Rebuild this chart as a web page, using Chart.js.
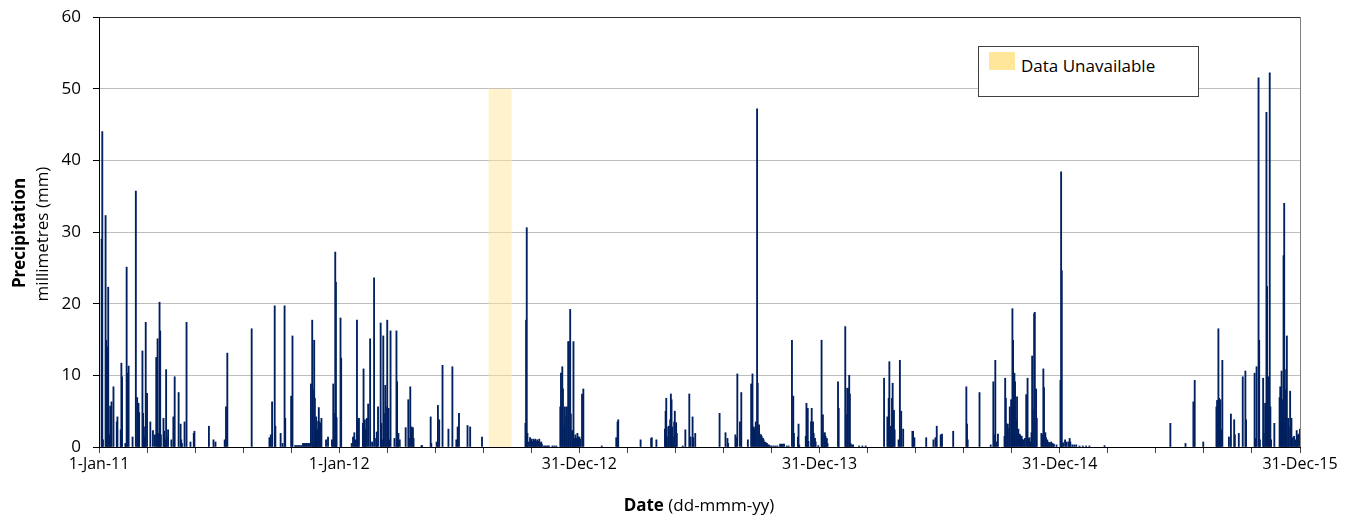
<!DOCTYPE html>
<html>
<head>
<meta charset="utf-8">
<script src="https://cdn.jsdelivr.net/npm/chart.js@4.4.1/dist/chart.umd.min.js"></script>
<style>
  html, body { margin: 0; padding: 0; background: #fff; overflow: hidden; }
  #wrap { position: relative; width: 1356px; height: 516px; }
  canvas { position: absolute; left: 0; top: 0; }
  .t { position: absolute; font-family: "Open Sans", sans-serif; color: #000; white-space: nowrap; }
  #xt { left: 699px; top: 504px; transform: translate(-50%, -50%); font-size: 17px; }
  #yt1 { left: 18px; top: 233px; transform: translate(-50%, -50%) rotate(-90deg); font-size: 17px; font-weight: bold; }
  #yt2 { left: 41px; top: 234px; transform: translate(-50%, -50%) rotate(-90deg); font-size: 17px; }
  #legend { position: absolute; left: 978px; top: 46px; width: 221px; height: 51px; box-sizing: border-box;
            border: 1px solid #404040; background: #fff; }
  #sw { position: absolute; left: 10px; top: 5px; width: 26px; height: 18px; background: #FFE699; }
  #lt { position: absolute; left: 42px; top: 8px; font-family: "Open Sans", sans-serif; font-size: 17px; line-height: 22px; color: #000; white-space: nowrap; }
</style>
</head>
<body>
<div id="wrap">
  <canvas id="c" width="1356" height="516"></canvas>
  <div class="t" id="xt"><b>Date</b> (dd-mmm-yy)</div>
  <div class="t" id="yt1">Precipitation</div>
  <div class="t" id="yt2">millimetres (mm)</div>
  <div id="legend"><div id="sw"></div><div id="lt">Data Unavailable</div></div>
</div>
<script>
// Day index counted from 1-Jan-11 (day 0) to 31-Dec-15 (day 1825); daily precipitation in mm
const days2011 = [
  4,5,6,10,11,13,14,16,17,19,
  22,27,28,33,34,35,40,42,43,45,
  51,56,58,60,61,66,67,69,70,71,
  73,78,82,85,87,89,90,92,93,94,
  98,99,101,102,103,105,110,113,115,121,
  124,125,126,130,133,139,144,145,167,174,
  177,191,193,195,232,259,261,263,267,268,
  276,279,282,283,292,294,298,300,302,304,
  306,308,310,312,314,316,318,320,322,324,
  325,327,328,329,330,331,332,334,335,337,
  338,345,348,354,356,357,359,360,361
];
const mm2011 = [
  29,44,1,32.3,14.9,14,22.3,1.7,5.7,6.3,
  8.4,3.5,4.2,2.4,11.7,9.8,0.5,25.1,10.3,11.3,
  1.4,35.7,6.9,6.1,4.8,13.4,4.7,1.4,2.8,17.4,
  7.5,3.5,2.3,1.7,12.5,15.1,1.9,20.2,16.2,1.7,
  4.0,2.2,1,10.8,1.4,2.4,1,4.2,9.8,7.6,
  3.2,1,0.5,3.5,17.4,0.7,1.9,2.2,2.9,1,
  0.7,1,5.6,13.1,16.5,1.3,1.7,6.3,19.7,2.9,
  1.9,0.5,19.7,4.0,7.1,15.5,0.2,0.2,0.2,0.2,
  0.2,0.2,0.5,0.5,0.5,0.5,0.5,0.5,8.8,17.7,
  8.0,14.9,6.8,2.4,4.2,3.6,2.4,5.5,3.5,3.3,
  4.0,1,1.4,1,8.8,4.7,27.2,23.0,4.1
];
const days2012 = [
  367,368,384,386,388,390,392,393,395,401,
  402,404,405,407,409,412,415,418,421,422,
  424,428,429,430,432,433,435,436,438,440,
  441,443,449,452,453,455,457,466,470,471,
  473,475,477,478,490,491,504,505,513,515,
  517,522,531,537,543,545,547,560,564,582,
  648,649,650,651,653,655,657,658,660,661,
  663,664,666,667,669,670,672,673,676,678,
  680,682,684,689,692,695,701,702,704,705,
  707,708,710,711,713,714,716,717,719,720,
  721,722,724,725,727,728,730
];
const mm2012 = [
  18.0,12.4,0.5,1.4,2,1,17.7,3.8,4.0,3.3,
  10.9,3.8,2.5,4.0,6.0,15.1,0.7,23.6,1.2,2.1,
  5.6,17.3,3.3,1,15.5,4.7,8.6,5.6,17.7,5.4,
  1,16.2,1.2,16.2,9.1,1.9,1,2.7,6.6,1.2,
  8.4,2.8,2.7,1.2,0.2,0.2,4.2,0.5,0.7,5.8,
  3.8,11.4,2.5,11.2,1,2.8,4.7,3.0,2.8,1.4,
  3.3,17.7,30.6,1.9,0.7,1.3,1.1,0.8,1.1,0.9,
  1.1,0.8,1,0.8,1.1,0.6,0.7,0.4,0.15,0.15,
  0.15,0.15,0.15,0.15,0.15,0.15,5.6,10.3,11.2,8.1,
  2.8,5.6,4.2,5.6,14.7,14.7,19.2,4.6,2.3,0.5,
  14.7,1.2,1.7,1.2,1.9,1.4,1.4
];
const days2013 = [
  731,734,736,764,786,788,789,823,839,840,
  847,860,861,862,863,865,866,868,869,870,
  871,872,874,875,877,878,887,891,897,899,
  902,903,906,943,952,955,956,967,968,970,
  974,976,986,991,993,995,996,998,1000,1001,
  1003,1004,1006,1007,1009,1010,1012,1013,1015,1016,
  1018,1020,1022,1025,1028,1031,1035,1037,1039,1041,
  1045,1048,1053,1055,1056,1062,1063,1064,1074,1075,
  1077,1078,1082,1083,1085,1086,1088,1089,1093
];
const mm2013 = [
  1.1,7.4,8.1,0.15,1.3,3.5,3.8,1,1.2,1.3,
  1,2.5,5.0,6.8,1.4,2.8,2.9,3.8,7.4,6.6,
  2.8,1.4,3.5,5.0,3.4,1.9,0.15,2.4,7.4,1.4,
  4.2,1.3,1.9,4.7,2,1.2,0.5,1.7,1.3,10.2,
  3.5,7.6,1,8.8,10.2,2.8,2.5,3.5,47.2,8.9,
  3.1,1.8,1.7,1.5,1.2,1.0,0.7,0.65,0.5,0.3,
  0.3,0.15,0.15,0.15,0.15,0.15,0.4,0.4,0.4,0.4,
  0.15,0.15,14.9,7.1,1.9,1.4,3.2,0.3,1.5,6.1,
  5.4,0.8,3.5,5.4,3.5,1.9,1.2,0.7,0.2
];
const days2014 = [
  1098,1099,1100,1102,1103,1104,1106,1107,1123,1124,
  1134,1135,1137,1138,1140,1141,1142,1144,1146,1155,
  1160,1165,1193,1198,1200,1201,1203,1204,1205,1206,
  1208,1209,1215,1217,1219,1222,1236,1237,1239,1257,
  1268,1271,1273,1279,1281,1298,1318,1319,1320,1338,
  1355,1359,1360,1362,1364,1366,1376,1377,1378,1380,
  1381,1383,1384,1386,1388,1389,1391,1392,1394,1395,
  1397,1399,1400,1402,1403,1405,1407,1409,1411,1412,
  1414,1415,1417,1418,1419,1421,1422,1424,1425,1432,
  1433,1435,1436,1438,1439,1441,1442,1444,1445,1447,
  1449,1451,1455
];
const mm2014 = [
  14.9,2.8,4.5,1.9,2.0,1.5,1.2,0.5,9.1,5.4,
  16.8,4.5,8.2,8.2,10.0,7.4,0.5,0.3,0.3,0.15,
  0.15,0.15,9.6,4.2,6.8,11.9,2.9,1.7,6.8,8.9,
  5.1,2.4,1,12.1,5.0,2.5,2.2,2.2,1.3,1.3,
  1,1.3,2.9,1.7,1.8,2.2,8.4,3.2,1,7.6,
  0.3,9.1,1.7,12.1,0.7,1.8,1.5,9.6,6.8,3.2,
  3.2,2.6,5.6,6.6,19.3,14.9,10.3,9.1,3.8,7.0,
  2.5,1.8,1.6,1.5,1.1,1,1.2,7.3,9.6,1.2,
  1.3,0.7,2.0,12.7,5.2,18.6,18.8,8.1,4.0,1.9,
  1.7,10.9,8.3,2.0,1.3,1,0.7,0.6,0.6,0.7,
  0.5,0.4,0.3
];
const days2015 = [
  1461,1462,1463,1465,1468,1470,1473,1475,1476,1479,
  1482,1485,1490,1495,1500,1505,1528,1628,1651,1663,
  1665,1678,1698,1699,1701,1702,1704,1705,1707,1717,
  1720,1725,1726,1732,1738,1742,1743,1756,1757,1759,
  1762,1763,1764,1769,1770,1772,1774,1775,1777,1778,
  1779,1780,1781,1786,1794,1795,1797,1798,1800,1801,
  1803,1804,1805,1807,1808,1810,1812,1813,1814,1816,
  1818,1820,1821,1823,1825
];
const mm2015 = [
  9.3,38.4,24.6,0.6,1,0.7,0.7,1.2,0.7,0.3,
  0.3,0.3,0.15,0.15,0.15,0.15,0.2,3.3,0.5,6.3,
  9.3,0.7,5.6,6.5,16.5,6.8,6.6,2.4,12.1,1.4,
  4.6,3.8,1.7,1.9,9.8,10.6,3.8,10.3,1.2,11.2,
  51.5,14.9,1,9.6,1.9,6.1,46.7,22.4,9.8,1.9,
  52.2,5.6,1,3.3,6.9,8.4,10.6,6.6,26.7,34.0,
  8.0,10.8,15.5,4.0,2.8,7.8,4.0,1.3,1.2,1.5,
  1,2.3,1.6,1.8,2.5
];

// Data unavailable period (day indices) and the height of its marker
const gapStart = 592;
const gapEnd = 627;
const gapTop = 50;

// X axis: tick step (days) and labelled ticks
const xMin = 0, xMax = 1825, xStep = 73;
const labelDays = [0, 365, 730, 1095, 1460, 1825];
const labelTexts = ['1-Jan-11', '1-Jan-12', '31-Dec-12', '31-Dec-13', '31-Dec-14', '31-Dec-15'];
// Y axis
const yMin = 0, yMax = 60, yStep = 10;

const allDays = [].concat(days2011, days2012, days2013, days2014, days2015);
const allMm = [].concat(mm2011, mm2012, mm2013, mm2014, mm2015);
const points = allDays.map((d, i) => ({ x: d, y: allMm[i] }));

const gapPlugin = {
  id: 'gapBand',
  beforeDatasetsDraw(chart) {
    const { ctx, scales: { x, y } } = chart;
    const x0 = x.getPixelForValue(gapStart);
    const x1 = x.getPixelForValue(gapEnd);
    const yT = y.getPixelForValue(gapTop);
    const yB = y.getPixelForValue(0);
    ctx.save();
    ctx.fillStyle = 'rgba(255,230,153,0.5)';
    ctx.fillRect(x0, yT, x1 - x0, yB - yT);
    ctx.restore();
  }
};

new Chart(document.getElementById('c'), {
  type: 'bar',
  data: {
    datasets: [{
      data: points,
      backgroundColor: '#002060',
      borderWidth: 0,
      barThickness: 1.2
    }]
  },
  options: {
    responsive: false,
    animation: false,
    devicePixelRatio: 1,
    layout: { padding: { left: 0, right: 56, top: 17, bottom: 0 } },
    plugins: { legend: { display: false }, tooltip: { enabled: false } },
    scales: {
      x: {
        type: 'linear',
        min: xMin, max: xMax,
        offset: false,
        grid: {
          offset: false,
          drawOnChartArea: true,
          color: c => (c.tick && c.tick.value === xMax) ? '#808080' : 'rgba(0,0,0,0)',
          tickColor: '#404040',
          tickLength: 6,
          lineWidth: 1
        },
        border: { color: '#000', width: 1 },
        ticks: {
          stepSize: xStep,
          autoSkip: false,
          maxRotation: 0,
          padding: 2,
          color: '#000',
          font: { family: 'Open Sans', size: 16 },
          callback: v => {
            const i = labelDays.indexOf(Math.round(v));
            return i >= 0 ? labelTexts[i] : '';
          }
        },
        afterBuildTicks: s => {
          const t = [];
          for (let v = xMin; v <= xMax; v += xStep) t.push({ value: v });
          s.ticks = t;
        },
        afterFit: s => { s.height = 69; s.paddingLeft = 0; s.paddingRight = 0; }
      },
      y: {
        min: yMin, max: yMax,
        grid: {
          color: c => (c.tick && c.tick.value === yMax) ? '#303030' : '#BEBEBE',
          tickColor: '#000',
          tickLength: 6,
          lineWidth: 1
        },
        border: { color: '#000', width: 1 },
        ticks: {
          stepSize: yStep,
          padding: 12,
          color: '#000',
          font: { family: 'Open Sans', size: 17 }
        },
        afterFit: s => { s.width = 99; s.paddingTop = 0; s.paddingBottom = 0; }
      }
    }
  },
  plugins: [gapPlugin]
});
</script>
</body>
</html>
